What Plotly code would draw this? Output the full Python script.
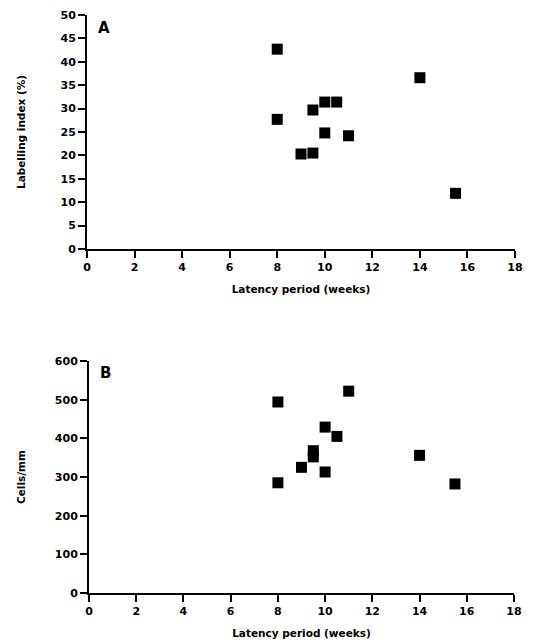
import plotly.graph_objects as go

# Panel A data
latency_a = [8, 8, 9, 9.5, 9.5, 10, 10, 10.5, 11, 14, 15.5]
labelling_index = [42.7, 27.7, 20.3, 20.5, 29.7, 31.4, 24.8, 31.4, 24.2, 36.6, 11.9]

# Panel B data
latency_b = [8, 8, 9, 9.5, 9.5, 10, 10, 10.5, 11, 14, 15.5]
cells_per_mm = [494, 285, 325, 368, 352, 429, 313, 405, 522, 356, 282]

x_ticks = [0, 2, 4, 6, 8, 10, 12, 14, 16, 18]
y_ticks_a = [0, 5, 10, 15, 20, 25, 30, 35, 40, 45, 50]
y_ticks_b = [0, 100, 200, 300, 400, 500, 600]

# page body has an 8px margin, so the figure is sized to fit inside the window
OFF = 8
W, H = 535 - OFF, 643 - OFF
FONT = "DejaVu Sans"
tickfont = dict(family=FONT, size=11, color="black", weight="bold")
titlefont = dict(family=FONT, size=10.5, color="black", weight="bold")

marker = dict(symbol="square", size=11, color="black", line=dict(width=0))

fig = go.Figure()
fig.add_trace(go.Scatter(x=latency_a, y=labelling_index, mode="markers",
                         marker=marker, xaxis="x", yaxis="y", showlegend=False))
fig.add_trace(go.Scatter(x=latency_b, y=cells_per_mm, mode="markers",
                         marker=marker, xaxis="x2", yaxis="y2", showlegend=False))

def px_x(p):
    return (p - OFF) / W

def px_y(p):
    return 1 - (p - OFF) / H

axis_common = dict(showline=True, linecolor="black", linewidth=2, ticks="outside",
                   tickwidth=2, ticklen=7, tickcolor="black", showgrid=False,
                   zeroline=False, tickfont=tickfont, fixedrange=True,
                   automargin=False)

fig.update_layout(
    width=W, height=H,
    margin=dict(l=0, r=0, t=0, b=0, pad=0),
    paper_bgcolor="white", plot_bgcolor="white",
    xaxis=dict(domain=[px_x(87), px_x(515)], anchor="y", range=[0, 18],
               tickvals=x_ticks,
               title=dict(text="Latency period (weeks)", font=titlefont, standoff=12),
               **axis_common),
    yaxis=dict(domain=[px_y(249), px_y(15)], anchor="x", range=[0, 50],
               tickvals=y_ticks_a,
               title=dict(text="Labelling index (%)", font=titlefont, standoff=33),
               **axis_common),
    xaxis2=dict(domain=[px_x(89), px_x(514)], anchor="y2", range=[0, 18],
                tickvals=x_ticks,
                title=dict(text="Latency period (weeks)", font=titlefont, standoff=12),
                **axis_common),
    yaxis2=dict(domain=[px_y(593), px_y(361)], anchor="x2", range=[0, 600],
                tickvals=y_ticks_b,
                title=dict(text="Cells/mm", font=titlefont, standoff=27),
                **axis_common),
    annotations=[
        dict(text="A", x=0.022, y=0.945, xref="x domain", yref="y domain",
             showarrow=False, xanchor="left", yanchor="middle",
             font=dict(family=FONT, size=15, color="black", weight="bold")),
        dict(text="B", x=0.021, y=0.95, xref="x2 domain", yref="y2 domain",
             showarrow=False, xanchor="left", yanchor="middle",
             font=dict(family=FONT, size=15, color="black", weight="bold")),
    ],
)

fig.write_html("out.html")
